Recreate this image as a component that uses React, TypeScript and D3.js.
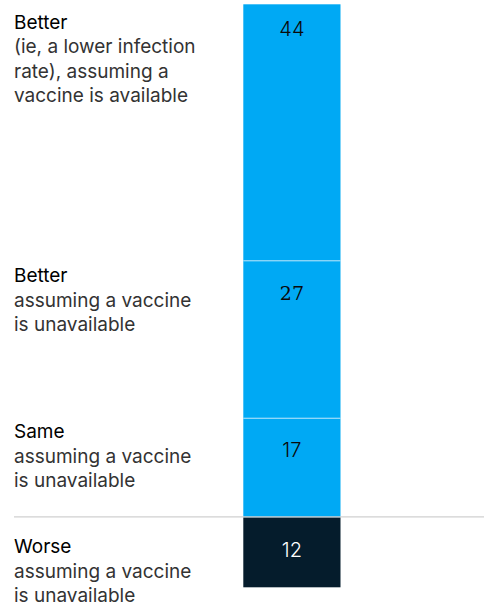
import React from "react";
import * as d3 from "d3";

// Share of respondents (%), stacked top to bottom
const outcomes = ["Better (vaccine)", "Better (no vaccine)", "Same", "Worse"];
const shares = [44, 27, 17, 12];
const titles = ["Better", "Better", "Same", "Worse"];
const descriptions = [
  ["(ie, a lower infection", "rate), assuming a", "vaccine is available"],
  ["assuming a vaccine", "is unavailable"],
  ["assuming a vaccine", "is unavailable"],
  ["assuming a vaccine", "is unavailable"],
];

const W = 484;
const H = 607;
const BLUE = "#00A9F4";
const NAVY = "#051C2C";

// Vertical nudges for the text blocks and value labels relative to each segment top
const titleShift = [24.7, 21.5, 20, 35.8];
const valueShift = [31.4, 39.2, 38.7, 39.8];
const LINE = 24.4;

export default function App() {
  const y = d3.scaleLinear().domain([0, d3.sum(shares)]).range([4.3, 587.3]);
  const x = d3.scaleBand().domain(["all"]).range([243.3, 340.5]).padding(0);

  const starts = d3.cumsum([0, ...shares]);
  const segs = shares.map((v, i) => ({
    key: outcomes[i],
    v,
    y0: y(starts[i]),
    y1: y(starts[i] + v),
    dark: i === shares.length - 1,
  }));
  const lastTop = segs[segs.length - 1].y0;

  return (
    <svg
      width={W}
      height={H}
      style={{ position: "absolute", left: 0, top: 0, display: "block", background: "#fff" }}
    >
      {segs.map((s) => (
        <rect
          key={s.key}
          x={x("all")}
          y={s.y0}
          width={x.bandwidth()}
          height={s.y1 - s.y0}
          fill={s.dark ? NAVY : BLUE}
        />
      ))}
      {/* thin light separators between the blue segments */}
      {segs.slice(1, -1).map((s) => (
        <line
          key={"sep" + s.key}
          x1={x("all")}
          x2={(x("all") as number) + x.bandwidth()}
          y1={s.y0}
          y2={s.y0}
          stroke="#B8E4FA"
          strokeWidth={1}
        />
      ))}
      {/* rule across the page above the last group */}
      <line x1={14} x2={W} y1={lastTop - 0.5} y2={lastTop - 0.5} stroke="#D0D0D0" strokeWidth={1.2} />

      {segs.map((s, i) => (
        <text
          key={"v" + s.key}
          x={(x("all") as number) + x.bandwidth() / 2}
          y={s.y0 + valueShift[i]}
          textAnchor="middle"
          fontFamily={i === 1 ? "'DejaVu Serif', 'Liberation Serif', serif" : "Inter, 'Liberation Sans', sans-serif"}
          fontSize={i === 1 ? 19 : 20}
          fontWeight={300}
          fill={s.dark ? "#FFFFFF" : "#0a0a0a"}
        >
          {s.v}
        </text>
      ))}

      {segs.map((s, i) => (
        <text
          key={"t" + s.key}
          x={14}
          y={s.y0 + titleShift[i]}
          fontFamily="Inter, 'Liberation Sans', sans-serif"
          fontSize={19}
        >
          <tspan x={14} fontWeight={400} fill="#000000">
            {titles[i]}
          </tspan>
          {descriptions[i].map((line, j) => (
            <tspan key={j} x={14} dy={LINE} fontWeight={400} fill="#333333">
              {line}
            </tspan>
          ))}
        </text>
      ))}
    </svg>
  );
}
